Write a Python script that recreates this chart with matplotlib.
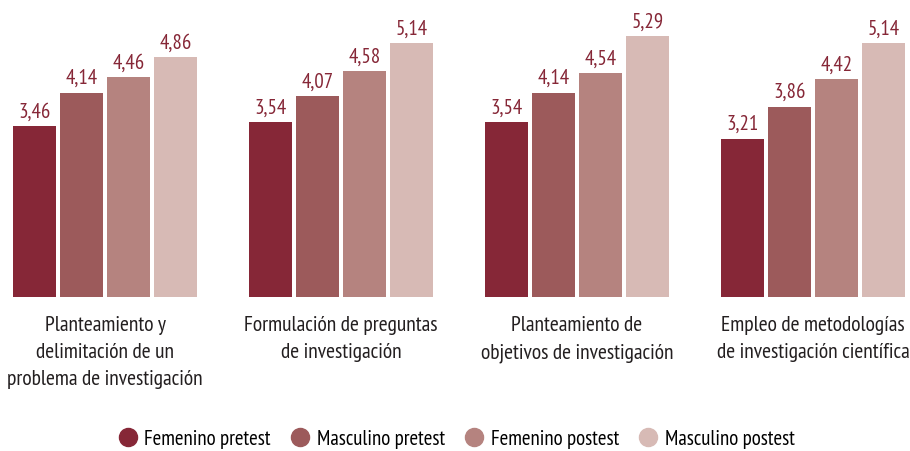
import matplotlib
matplotlib.use("Agg")
import matplotlib.pyplot as plt
from matplotlib.lines import Line2D
import numpy as np

categories = ["Planteamiento y\ndelimitación de un\nproblema de investigación",
              "Formulación de preguntas\nde investigación",
              "Planteamiento de\nobjetivos de investigación",
              "Empleo de metodologías\nde investigación científica"]
series_names = ["Femenino pretest", "Masculino pretest", "Femenino postest", "Masculino postest"]
fem_pre = [3.46, 3.54, 3.54, 3.21]
mas_pre = [4.14, 4.07, 4.14, 3.86]
fem_post = [4.46, 4.58, 4.54, 4.42]
mas_post = [4.86, 5.14, 5.29, 5.14]
colors = ["#862737", "#9c5a5b", "#b5837f", "#d7bab5"]

plt.rcParams['font.family'] = ['PT Sans Narrow', 'Roboto Condensed', 'DejaVu Sans']

fig = plt.figure(figsize=(9.10, 4.52), dpi=100)
ax = fig.add_axes([0, 0.3407, 1, 0.6593])
x = np.arange(len(categories))
step = 0.199
width = 0.183
series = [fem_pre, mas_pre, fem_post, mas_post]
for i, (vals, c) in enumerate(zip(series, colors)):
    pos = x + (i - 1.5) * step
    ax.bar(pos, vals, width=width, color=c)
    for p, v in zip(pos, vals):
        ax.annotate(f"{v:.2f}".replace(".", ","), (p, v), xytext=(0, 4),
                    textcoords="offset points", ha="center", va="bottom",
                    fontsize=15, color="#862737")
ax.set_xlim(-0.445, 3.411)
ax.set_ylim(0, 6.04)
ax.axis("off")

for xi, cat in zip(x, categories):
    ax.text(xi, -0.36, cat, ha="center", va="top", fontsize=15.5, color="#231f20",
            linespacing=1.55, transform=ax.transData, clip_on=False)

handles = [Line2D([0], [0], marker="o", linestyle="", markersize=13,
                  markerfacecolor=c, markeredgecolor=c) for c in colors]
fig.legend(handles, series_names, loc="center", bbox_to_anchor=(0.5, 0.027),
           ncol=4, frameon=False, fontsize=15, handletextpad=0.2,
           columnspacing=0.8, handlelength=1.2)

fig.savefig("out.png", dpi=100)
